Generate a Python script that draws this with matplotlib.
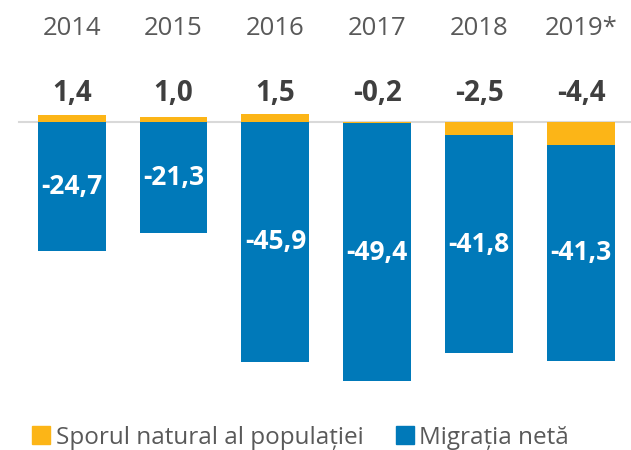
import numpy as np
import matplotlib.pyplot as plt
from matplotlib.lines import Line2D

plt.rcParams['font.family'] = ['Open Sans', 'DejaVu Sans']

years = ['2014', '2015', '2016', '2017', '2018', '2019*']
natural = [1.4, 1.0, 1.5, -0.2, -2.5, -4.4]
migration = [-24.7, -21.3, -45.9, -49.4, -41.8, -41.3]
totals = ['1,4', '1,0', '1,5', '-0,2', '-2,5', '-4,4']

ORANGE = '#FCB517'
BLUE = '#0079B9'

fig = plt.figure(figsize=(6.31, 4.5), dpi=100)
ax = fig.add_axes([0, 0, 1, 1])

x = np.arange(len(years))
nat = np.array(natural)
mig = np.array(migration)
w = 0.667

# natural growth: positive above zero, negative below (migration stacks under it)
ax.bar(x, nat, width=w, color=ORANGE, edgecolor='none', zorder=2)
mig_bottom = np.minimum(nat, 0)
ax.bar(x, mig, bottom=mig_bottom, width=w, color=BLUE, edgecolor='none', zorder=2)

ax.axhline(0, xmin=0.03, xmax=1, color='#d9d9d9', lw=1.5, zorder=1)

for i in range(len(years)):
    ax.text(x[i], 18.0, years[i], ha='center', va='center', fontsize=18.5,
            color='#595959')
    ax.text(x[i], 5.5, totals[i], ha='center', va='center', fontsize=20,
            fontweight='bold', color='#3f3f3f')
    yc = mig_bottom[i] + mig[i] / 2
    ax.text(x[i], yc, f'{mig[i]:.1f}'.replace('.', ','), ha='center', va='center',
            fontsize=19, fontweight='bold', color='white', zorder=3)

ax.set_xlim(-0.703, 5.49)
ax.set_ylim(-62.8, 23.37)
ax.axis('off')

handles = [Line2D([], [], marker='s', ls='none', color=ORANGE, markersize=13),
           Line2D([], [], marker='s', ls='none', color=BLUE, markersize=13)]
leg = fig.legend(handles, ['Sporul natural al populației', 'Migrația netă'],
                 loc='center left', bbox_to_anchor=(0.011, 0.027), ncol=2,
                 frameon=False, fontsize=17.5, handletextpad=0.1,
                 columnspacing=1.2, handlelength=1.0)
for t in leg.get_texts():
    t.set_color('#595959')

fig.savefig('out.png', dpi=100)
